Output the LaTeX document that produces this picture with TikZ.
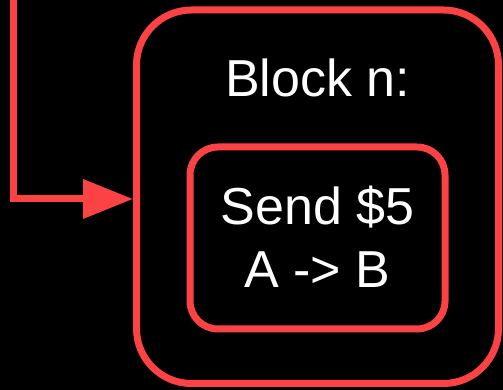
\documentclass[tikz,border=0pt]{standalone}
\usepackage{fontspec}
\setmainfont{Liberation Sans}
\usetikzlibrary{arrows.meta}
\definecolor{chainred}{RGB}{252,66,66}
\tikzset{
  x=1pt, y=1pt,
  redbox/.style={draw=chainred, line width=7pt, fill=black, inner sep=0pt},
  label text/.style={text=white, font=\fontsize{52}{63}\selectfont, inner sep=0pt, anchor=base},
  link/.style={draw=chainred, line width=7pt, -{Triangle[length=50pt,width=38pt]}}
}
\begin{document}
\begin{tikzpicture}
  % canvas
  \fill[black] (0,0) rectangle (503,390);
  \useasboundingbox (0,0) rectangle (503,390);
  \begin{scope}
    \clip (0,0) rectangle (503,390);
    % outer block and inner transaction box
    \node[redbox, rounded corners=55pt, minimum width=362pt, minimum height=373.5pt]
      (block) at (317.5,193.25) {};
    \node[redbox, rounded corners=28pt, minimum width=255pt, minimum height=182pt]
      (tx) at (317.5,152) {};
    % texts
    \node[label text] (title) at (317.5,293) {Block n:};
    \node[label text] (send) at (317.5,165) {Send \$5};
    \node[label text] (dir) at (317.5,102) {A -> B};
    % link from the previous block
    \coordinate (src) at (13.5,400);
    \coordinate (bend) at (13.5,191);
    \draw[link] (src) -- (bend) -- (bend -| block.west);
  \end{scope}
\end{tikzpicture}
\end{document}
